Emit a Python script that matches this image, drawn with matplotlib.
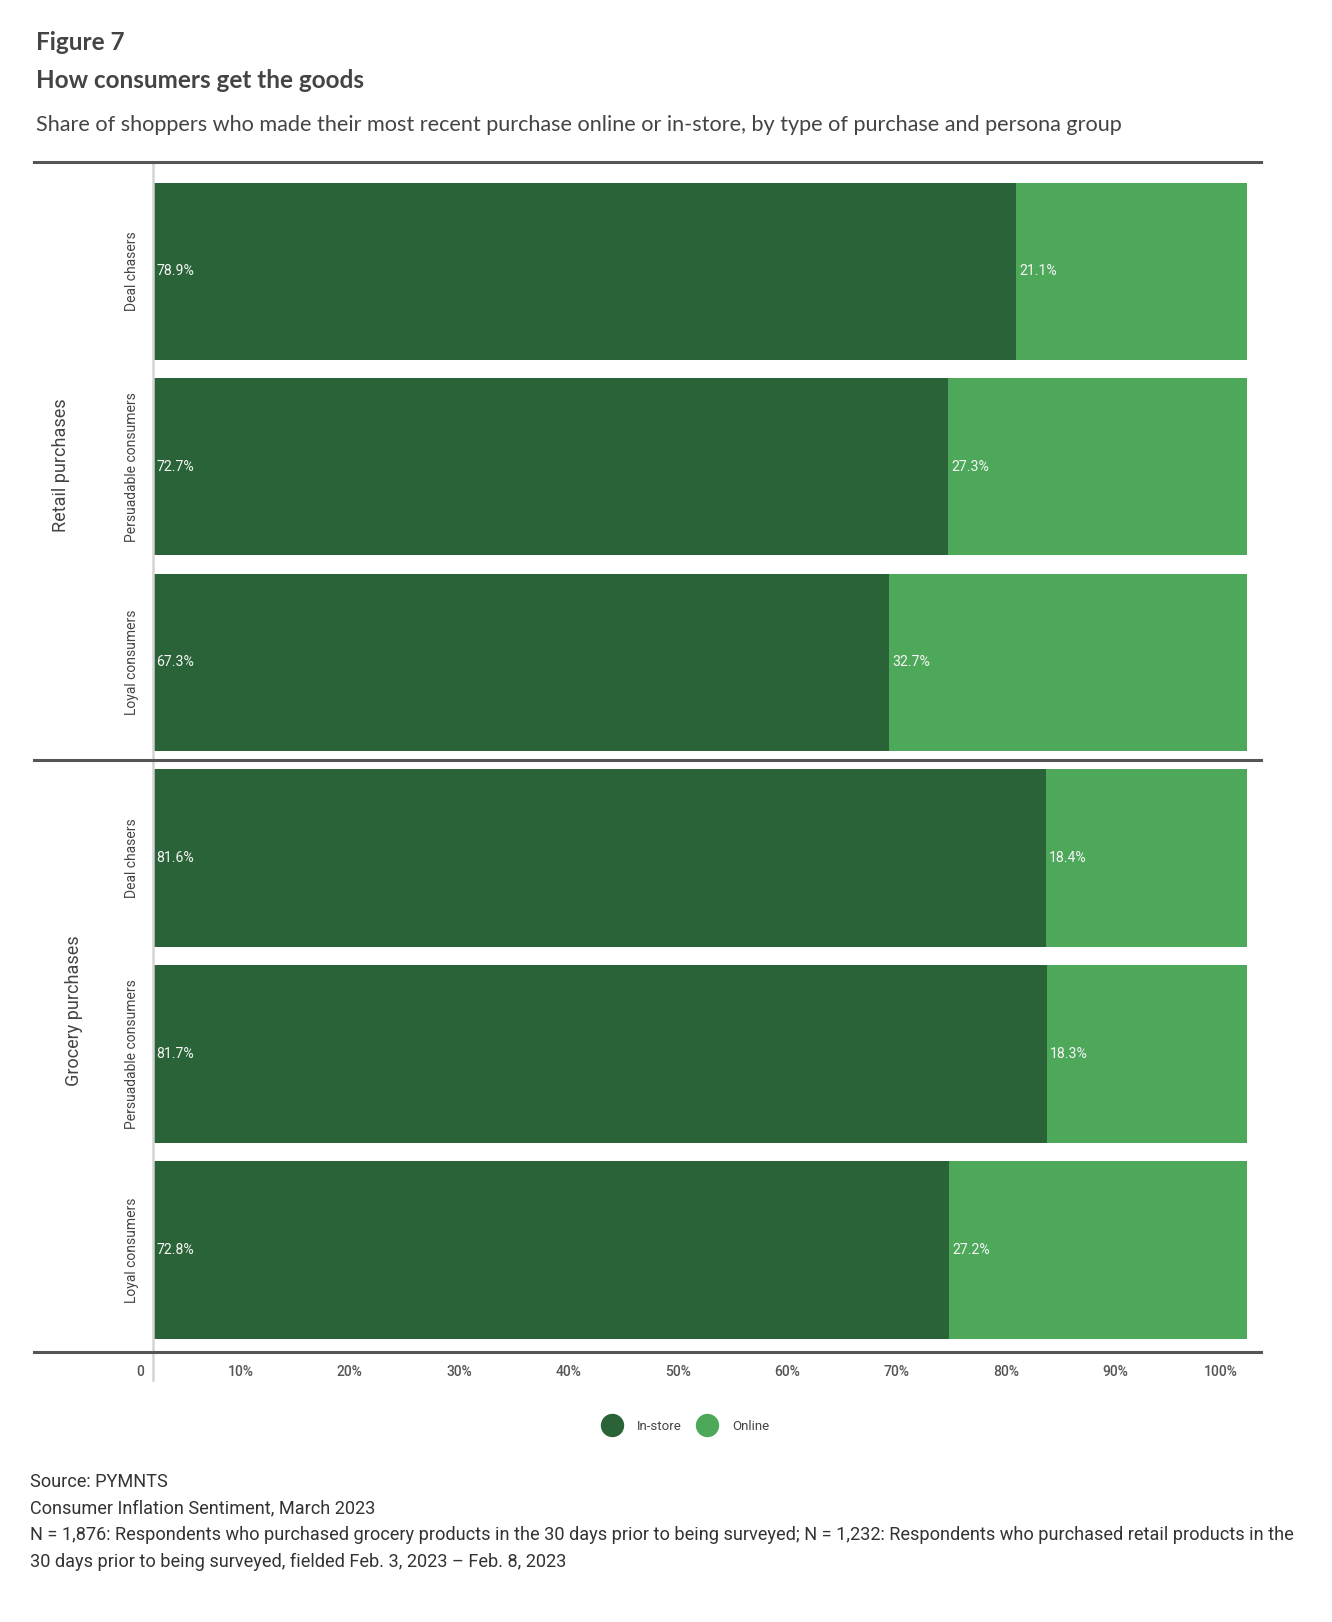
'''
Stacked bar chart: how consumers get the goods (in-store vs online).
'''

import matplotlib
matplotlib.use("Agg")
import matplotlib.pyplot as plt
import matplotlib.transforms as mtransforms
from matplotlib.lines import Line2D

# data
groups = ["Retail purchases", "Grocery purchases"]
personas = ["Deal chasers", "Persuadable consumers", "Loyal consumers"]
retail_instore = [78.9, 72.7, 67.3]
retail_online = [21.1, 27.3, 32.7]
grocery_instore = [81.6, 81.7, 72.8]
grocery_online = [18.4, 18.3, 27.2]
x_ticks = [0, 10, 20, 30, 40, 50, 60, 70, 80, 90, 100]
x_tick_labels = ["0", "10%", "20%", "30%", "40%", "50%", "60%", "70%",
                 "80%", "90%", "100%"]
series_names = ["In-store", "Online"]

DARK = "#2a6337"
LIGHT = "#4da85a"
TEXT = "#444444"
W, H = 1332, 1622

fig = plt.figure(figsize=(W / 100, H / 100), dpi=100)


def fx(px):
    return px / W


def fy(py):
    return 1 - py / H


# titles
fig.text(fx(36), fy(43), "Figure 7", family="Lato", weight="bold",
         fontsize=17.5, color=TEXT, va="center")
fig.text(fx(36), fy(80), "How consumers get the goods", family="Lato",
         weight="bold", fontsize=17.5, color=TEXT, va="center")
fig.text(fx(36), fy(125),
         "Share of shoppers who made their most recent purchase online or "
         "in-store, by type of purchase and persona group",
         family="Lato", fontsize=15.6, color=TEXT, va="center")

# two panels, one per purchase type
ax_r = fig.add_axes([fx(153), fy(760), fx(1247) - fx(153), fy(162) - fy(760)])
ax_g = fig.add_axes([fx(153), fy(1352), fx(1247) - fx(153), fy(760) - fy(1352)])

panels = [
    (ax_r, retail_instore, retail_online, (2.50, -0.56)),
    (ax_g, grocery_instore, grocery_online, (2.52, -0.50)),
]

for ax, instore, online, ylim in panels:
    pos = list(range(len(personas)))
    ax.barh(pos, instore, height=0.905, color=DARK, linewidth=0)
    ax.barh(pos, online, left=instore, height=0.905, color=LIGHT,
            linewidth=0)
    for p, a, b in zip(pos, instore, online):
        ax.annotate(f"{a:.1f}%", (0, p), xytext=(2.2, 0),
                    textcoords="offset points", va="center", ha="left",
                    color="#f5f5f5", fontsize=10.2, family="Roboto")
        ax.annotate(f"{b:.1f}%", (a, p), xytext=(2.2, 0),
                    textcoords="offset points", va="center", ha="left",
                    color="#f5f5f5", fontsize=10.2, family="Roboto")
    # persona labels, rotated
    tr = mtransforms.blended_transform_factory(fig.transFigure, ax.transData)
    for p, name in zip(pos, personas):
        ax.text(fx(132), p, name, transform=tr, rotation=90, ha="center",
                va="center", fontsize=10, family="Roboto", color=TEXT)
    ax.set_xlim(0, 100)
    ax.set_ylim(*ylim)
    ax.set_xticks([])
    ax.set_yticks([])
    for s in ax.spines.values():
        s.set_visible(False)
    ax.patch.set_alpha(0)

# group labels
fig.text(fx(61), fy(465), groups[0], rotation=90, ha="center", va="center",
         fontsize=13, family="Roboto", color=TEXT)
fig.text(fx(74), fy(1011), groups[1], rotation=90, ha="center", va="center",
         fontsize=13, family="Roboto", color=TEXT)

# x tick labels, right-aligned just left of each gridline position
off = mtransforms.ScaledTranslation(-9 / 100, 0, fig.dpi_scale_trans)
tr = mtransforms.blended_transform_factory(ax_g.transData, fig.transFigure)
for t, lab in zip(x_ticks, x_tick_labels):
    ax_g.text(t, fy(1372), lab, transform=tr + off, ha="right", va="center",
              fontsize=10, family="Roboto", weight="medium", color="#555555")

# vertical axis line
vtr = mtransforms.blended_transform_factory(ax_g.transData, fig.transFigure)
fig.add_artist(Line2D([0, 0], [fy(162), fy(1380)], transform=vtr,
                      color="#d4d4d4", linewidth=1.8))

# horizontal separators
for y in [162, 760, 1352]:
    fig.add_artist(Line2D([fx(34), fx(1261)], [fy(y), fy(y)],
                          transform=fig.transFigure, color="#555555",
                          linewidth=2.2))

# legend
handles = [Line2D([], [], marker="o", linestyle="", markersize=15.8,
                  markerfacecolor=c, markeredgecolor=c)
           for c in (DARK, LIGHT)]
leg = fig.legend(handles, series_names, loc="center", ncol=2,
                 bbox_to_anchor=(fx(684), fy(1426)), frameon=False,
                 handlelength=2.0, handletextpad=0.9, columnspacing=0.9,
                 prop={"family": "Roboto", "size": 9.5})
for t in leg.get_texts():
    t.set_color(TEXT)

# footer
footer = [
    "Source: PYMNTS",
    "Consumer Inflation Sentiment, March 2023",
    "N = 1,876: Respondents who purchased grocery products in the 30 days "
    "prior to being surveyed; N = 1,232: Respondents who purchased retail "
    "products in the",
    "30 days prior to being surveyed, fielded Feb. 3, 2023 \u2013 Feb. 8, 2023",
]
for i, line in enumerate(footer):
    fig.text(fx(30), fy(1482 + i * 26.5), line, family="Roboto",
             fontsize=13.1, color="#333333", va="center")

fig.savefig("out.png", dpi=100)
